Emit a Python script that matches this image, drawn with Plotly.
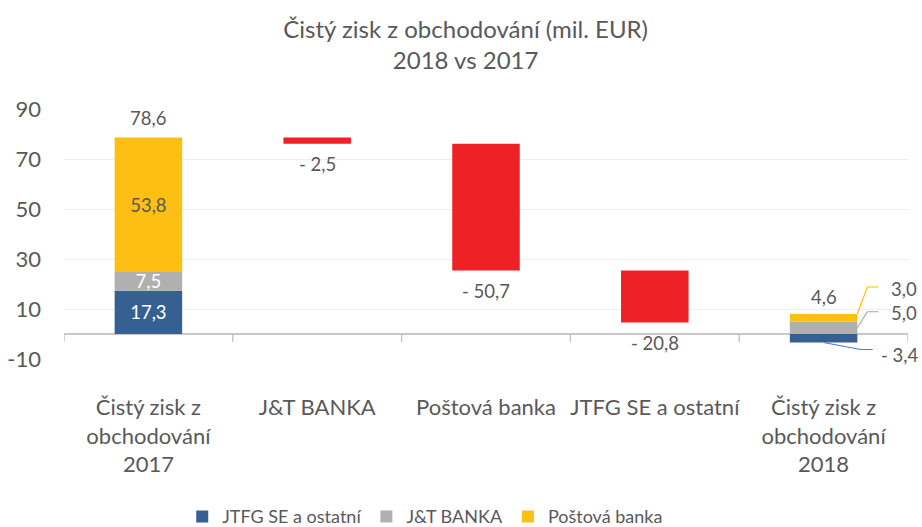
import plotly.graph_objects as go

# ---- data ----
categories = ["Čistý zisk z<br>obchodování<br>2017", "J&T BANKA", "Poštová banka",
              "JTFG SE a ostatní", "Čistý zisk z<br>obchodování<br>2018"]
series_names = ["JTFG SE a ostatní", "J&T BANKA", "Poštová banka"]
values_2017 = [17.3, 7.5, 53.8]
values_2018 = [-3.4, 5.0, 3.0]
changes = [-2.5, -50.7, -20.8]
total_2017 = 78.6
total_2018 = 4.6
y_ticks = [-10, 10, 30, 50, 70, 90]

colors = ["#376092", "#B0B0B0", "#FDBF12"]
red = "#EE2127"
txt = "#595959"
FONT = "Lato"
LBL = 18.5


def fmt(v):
    s = f"{abs(v):.1f}".replace(".", ",")
    return "- " + s if v < 0 else s


xpos = list(range(len(categories)))
first, last = xpos[0], xpos[-1]
bw = 0.4
x_range = [-0.5, len(categories) - 0.5]


def to_paper(x):
    return (x - x_range[0]) / (x_range[1] - x_range[0])


fig = go.Figure()

# stacked segments for 2017 and 2018
pos_base_17 = 0.0
pos_base_18 = 0.0
neg_base_18 = 0.0
inside_colors = ["white", "white", txt]
bases18 = []
for i, name in enumerate(series_names):
    v17, v18 = values_2017[i], values_2018[i]
    b17 = pos_base_17
    pos_base_17 += v17
    if v18 >= 0:
        b18 = pos_base_18
        pos_base_18 += v18
    else:
        b18 = neg_base_18
        neg_base_18 += v18
    bases18.append(b18)
    fig.add_trace(go.Bar(
        x=[first, last], y=[v17, v18], base=[b17, b18], name=name,
        marker=dict(color=colors[i], line=dict(width=0)), width=bw,
        text=[fmt(v17), ""], textposition="inside", insidetextanchor="middle",
        constraintext="none",
        textfont=dict(family=FONT, size=LBL, color=inside_colors[i]),
        hoverinfo="skip",
    ))

# floating change bars
running = total_2017
bases = []
for c in changes:
    bases.append(running)
    running += c
fig.add_trace(go.Bar(
    x=xpos[1:-1], y=changes, base=bases, width=bw,
    marker=dict(color=red, line=dict(width=0)), showlegend=False, hoverinfo="skip",
))

annotations = []
# labels below change bars
for x, b, c in zip(xpos[1:-1], bases, changes):
    annotations.append(dict(x=x, y=b + c, xref="x", yref="y", text=fmt(c),
                            showarrow=False, yanchor="middle", yshift=-20,
                            font=dict(family=FONT, size=LBL, color=txt)))
# totals above stacks
annotations.append(dict(x=first, y=pos_base_17, text=fmt(total_2017), showarrow=False,
                        yanchor="middle", yshift=20, font=dict(family=FONT, size=LBL, color=txt)))
annotations.append(dict(x=last, y=pos_base_18, text=fmt(total_2018), showarrow=False,
                        yanchor="middle", yshift=17, font=dict(family=FONT, size=LBL, color=txt)))

# callouts for 2018 segments
shapes = []
edge = last + bw / 2
leader_colors = ["#4A7CC9", "#A6A6A6", "#FFC000"]
y_yellow = bases18[2] + values_2018[2]
y_gray = bases18[1] + values_2018[1] / 2
y_blue = bases18[0] + values_2018[0]
callouts = [
    (edge, y_yellow, "M0,0 L10,27 L21,27", leader_colors[2], fmt(values_2018[2]), 47, 25),
    (edge, y_gray, "M0,0 L10,16 L21,16", leader_colors[1], fmt(values_2018[1]), 47, 15),
    (last, y_blue, "M0,0 L37,-7 L49,-7", leader_colors[0], fmt(values_2018[0]), 76, -12),
]
for ax_, ay_, path, col, label, xs, ys in callouts:
    shapes.append(dict(type="path", xref="x", yref="y", xsizemode="pixel", ysizemode="pixel",
                       xanchor=ax_, yanchor=ay_, path=path,
                       line=dict(color=col, width=1.2)))
    annotations.append(dict(x=to_paper(ax_), y=ay_, xref="paper", yref="y", text=label,
                            showarrow=False, xshift=xs, yshift=ys,
                            xanchor="center", yanchor="middle",
                            font=dict(family=FONT, size=LBL, color=txt)))

# category boundary tick marks on zero line
for k in range(len(categories) + 1):
    shapes.append(dict(type="line", xref="x", yref="y", ysizemode="pixel", yanchor=0,
                       x0=k - 0.5, x1=k - 0.5, y0=0, y1=-8,
                       line=dict(color="#BFBFBF", width=1.3)))

fig.update_layout(
    width=922, height=527,
    barmode="overlay",
    paper_bgcolor="white", plot_bgcolor="white",
    margin=dict(l=64, r=14, t=109, b=168, autoexpand=False),
    title=dict(text="Čistý zisk z obchodování (mil. EUR)<br>2018 vs 2017",
               x=0.505, xanchor="center", yref="container", y=0.928, yanchor="top",
               font=dict(family=FONT, size=24, color=txt)),
    font=dict(family=FONT, color=txt),
    xaxis=dict(range=x_range, tickvals=xpos, ticktext=categories,
               showgrid=False, zeroline=False, showline=False, ticks="",
               ticklabelstandoff=33,
               tickfont=dict(family=FONT, size=22, color=txt)),
    yaxis=dict(range=[-10, 90], tickvals=y_ticks, ticktext=[str(t) for t in y_ticks],
               showgrid=True, gridcolor="#EDEDED", gridwidth=1,
               zeroline=True, zerolinecolor="#C8C8C8", zerolinewidth=1.5,
               showline=False, ticks="", ticklabelstandoff=22,
               tickfont=dict(family=FONT, size=22, color=txt)),
    legend=dict(orientation="h", x=0.428, xanchor="center", y=-0.705, yanchor="bottom",
                font=dict(family=FONT, size=18, color=txt), itemwidth=30,
                traceorder="normal"),
    annotations=annotations,
    shapes=shapes,
    showlegend=True,
)

# the default page body has an 8px margin; remove it so the figure fills the window
fig.write_html("out.html", config={"displayModeBar": False},
               post_script="document.body.style.margin='0';document.body.style.overflow='hidden';")
